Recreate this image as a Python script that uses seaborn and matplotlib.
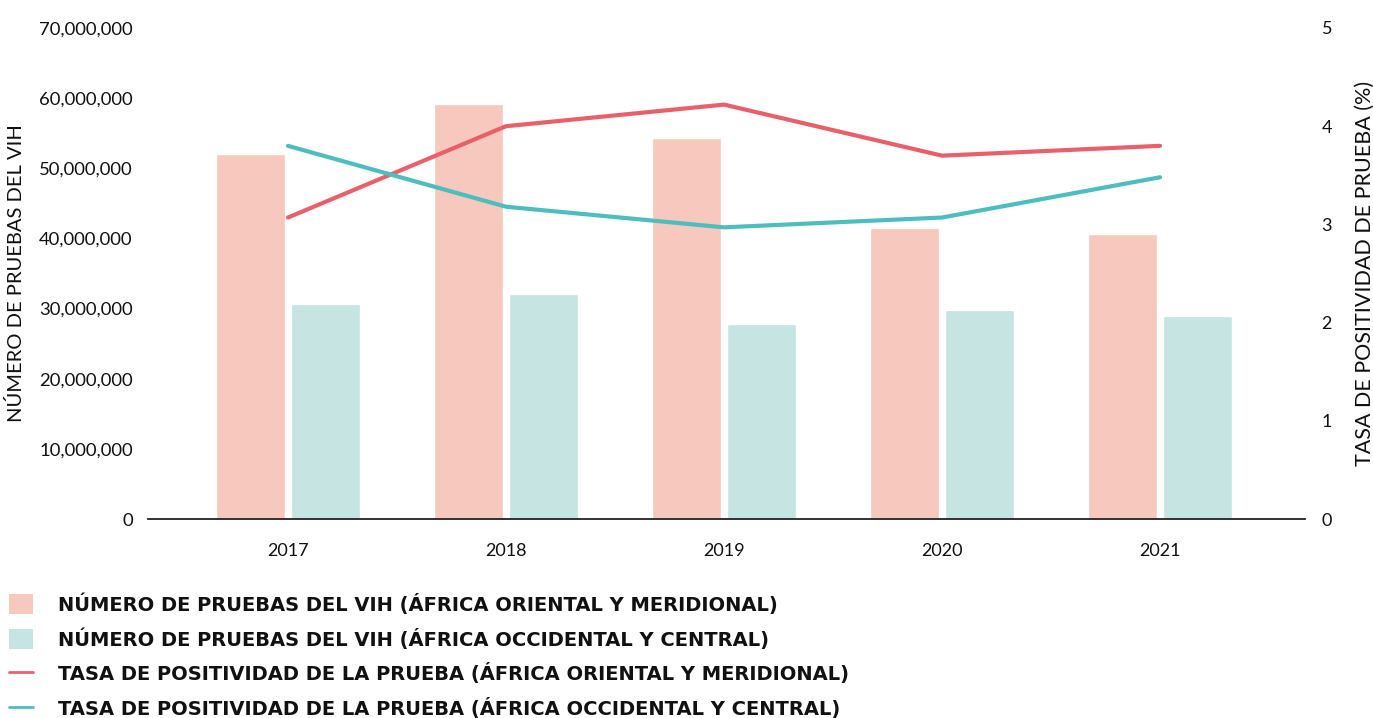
import matplotlib
matplotlib.use("Agg")
import matplotlib.pyplot as plt
import seaborn as sns
import pandas as pd
import numpy as np
from matplotlib.patches import Patch
from matplotlib.lines import Line2D
from matplotlib.ticker import FuncFormatter

years = ["2017", "2018", "2019", "2020", "2021"]
tests_east = [52.0e6, 59.2e6, 54.3e6, 41.5e6, 40.6e6]
tests_west = [30.6e6, 32.1e6, 27.8e6, 29.8e6, 28.9e6]
rate_east = [3.07, 4.00, 4.22, 3.70, 3.80]
rate_west = [3.80, 3.18, 2.97, 3.07, 3.48]

lbl_bar_e = "NÚMERO DE PRUEBAS DEL VIH (ÁFRICA ORIENTAL Y MERIDIONAL)"
lbl_bar_w = "NÚMERO DE PRUEBAS DEL VIH (ÁFRICA OCCIDENTAL Y CENTRAL)"
lbl_line_e = "TASA DE POSITIVIDAD DE LA PRUEBA (ÁFRICA ORIENTAL Y MERIDIONAL)"
lbl_line_w = "TASA DE POSITIVIDAD DE LA PRUEBA (ÁFRICA OCCIDENTAL Y CENTRAL)"

c_bar_e = "#F7C8BD"
c_bar_w = "#C5E4E2"
c_line_e = "#E9606B"
c_line_w = "#4DBDBE"

sns.set_theme(style="white")
plt.rcParams['font.family'] = ['Lato', 'DejaVu Sans']

df_bars = pd.DataFrame({
    "year": years * 2,
    "tests": tests_east + tests_west,
    "region": ["E"] * 5 + ["W"] * 5,
})

fig = plt.figure(figsize=(13.73, 7.18), dpi=100)
ax = fig.add_axes([148/1373, 1-519/718, (1305-148)/1373, (519-28)/718])

sns.barplot(data=df_bars, x="year", y="tests", hue="region",
            palette=[c_bar_e, c_bar_w], width=0.69, gap=0.08,
            ax=ax, legend=False, saturation=1)

ax.set_ylim(0, 70e6)
ax.set_yticks(np.arange(0, 70e6 + 1, 10e6))
ax.yaxis.set_major_formatter(FuncFormatter(lambda v, p: f"{int(v):,}"))
ax.set_xlim(-0.642, 4.665)
for s in ["top", "right", "left"]:
    ax.spines[s].set_visible(False)
ax.spines["bottom"].set_color("#222222")
ax.spines["bottom"].set_linewidth(1.3)
ax.tick_params(axis="y", length=0, pad=11, labelsize=13.3, labelcolor="#111111")
ax.tick_params(axis="x", length=0, pad=17, labelsize=13, labelcolor="#111111")
ax.set_xlabel("")
ax.set_ylabel("NÚMERO DE PRUEBAS DEL VIH", fontsize=14.5, color="#111111", labelpad=10)
ax.grid(False)

ax2 = ax.twinx()
xs = np.arange(len(years))
sns.lineplot(x=xs, y=rate_east, ax=ax2, color=c_line_e, linewidth=3.0)
sns.lineplot(x=xs, y=rate_west, ax=ax2, color=c_line_w, linewidth=3.0)
ax2.set_ylim(0, 5)
ax2.set_yticks(range(0, 6))
for s in ["top", "right", "left", "bottom"]:
    ax2.spines[s].set_visible(False)
ax2.tick_params(axis="y", length=0, pad=12, labelsize=13, labelcolor="#111111")
ax2.set_ylabel("TASA DE POSITIVIDAD DE PRUEBA (%)", fontsize=15.5, color="#111111", labelpad=16)
ax2.grid(False)

handles = [
    Patch(facecolor=c_bar_e, edgecolor="none"),
    Patch(facecolor=c_bar_w, edgecolor="none"),
    Line2D([], [], color=c_line_e, linewidth=2.0),
    Line2D([], [], color=c_line_w, linewidth=2.0),
]
leg = fig.legend(handles, [lbl_bar_e, lbl_bar_w, lbl_line_e, lbl_line_w],
                 loc="upper left", bbox_to_anchor=(-0.003, 0.193), frameon=False,
                 prop={"family": "DejaVu Sans", "weight": "bold", "size": 14},
                 handlelength=1.2, handleheight=1.2, handletextpad=1.3,
                 labelspacing=0.7, borderaxespad=0.3)
for t in leg.get_texts():
    t.set_color("#111111")

fig.savefig("out.png", dpi=100)
